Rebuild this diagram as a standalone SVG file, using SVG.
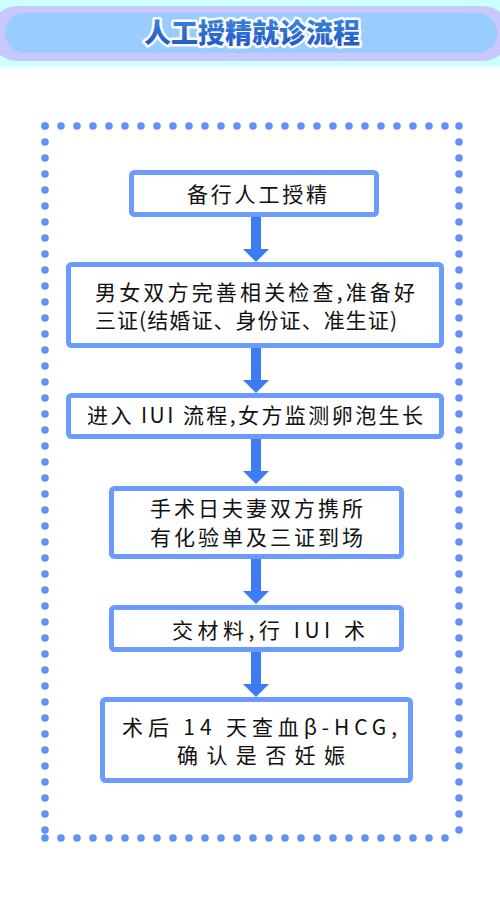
<svg xmlns="http://www.w3.org/2000/svg" width="500" height="900" viewBox="0 0 500 900">
  <defs>
    <linearGradient id="tg" x1="0" y1="0" x2="0" y2="1">
      <stop offset="0" stop-color="#3F8FE6"/>
      <stop offset="1" stop-color="#1F4FC0"/>
    </linearGradient>
  </defs>
  <style>
    .box { fill: #ffffff; stroke: #6B9BFF; stroke-width: 5; }
    .t { font-family: "Noto Sans CJK SC", "Liberation Sans", sans-serif; font-size: 21px; fill: #111111; }
    .arrow { fill: #3D7BF5; }
    .dots { stroke: #5C95F7; stroke-width: 7.5; stroke-linecap: round; stroke-dasharray: 0 16; fill: none; }
    .title { font-family: "Noto Sans CJK SC", sans-serif; font-size: 27px; font-weight: 900; fill: url(#tg); stroke: #ffffff; stroke-width: 5; paint-order: stroke; stroke-linejoin: round; }
  </style>
  <rect x="0" y="0" width="500" height="900" fill="#ffffff"/>
  <g id="header">
    <rect x="0" y="0" width="500" height="67" fill="#CCFFFF"/>
    <rect x="-10" y="6" width="520" height="55" rx="27.5" fill="#C8C8FF"/>
    <rect x="5" y="13" width="492" height="40" rx="20" fill="#99CCFF"/>
    <text class="title" x="252" y="43" text-anchor="middle">人工授精就诊流程</text>
  </g>
  <g id="frame">
    <line class="dots" x1="45" y1="126" x2="461" y2="126"/>
    <line class="dots" x1="45" y1="126" x2="45" y2="838"/>
    <line class="dots" x1="459" y1="126" x2="459" y2="838"/>
    <line class="dots" x1="45" y1="838" x2="461" y2="838"/>
  </g>
  <g id="connectors">
    <path class="arrow" d="M251,216 H261 V249 H269 L256,262 L243,249 H251 Z"/>
    <path class="arrow" d="M251,347 H261 V380 H269 L256,393 L243,380 H251 Z"/>
    <path class="arrow" d="M251,438 H261 V471 H269 L256,484 L243,471 H251 Z"/>
    <path class="arrow" d="M251,558 H261 V591 H269 L256,604 L243,591 H251 Z"/>
    <path class="arrow" d="M251,651 H261 V684 H269 L256,697 L243,684 H251 Z"/>
  </g>
  <g id="node1">
    <rect class="box" x="131.5" y="172.5" width="245" height="42" rx="3"/>
    <text class="t" x="187" y="202" textLength="140" lengthAdjust="spacing">备行人工授精</text>
  </g>
  <g id="node2">
    <rect class="box" x="68.5" y="264.5" width="373" height="81" rx="3"/>
    <text class="t" x="95" y="300" textLength="320" lengthAdjust="spacing">男女双方完善相关检查,准备好</text>
    <text class="t" x="95" y="328" textLength="302" lengthAdjust="spacing">三证(结婚证、身份证、准生证)</text>
  </g>
  <g id="node3">
    <rect class="box" x="68.5" y="395.5" width="373" height="41" rx="3"/>
    <text class="t" x="87" y="423" textLength="336" lengthAdjust="spacing">进入 IUI 流程,女方监测卵泡生长</text>
  </g>
  <g id="node4">
    <rect class="box" x="111.5" y="488.5" width="290" height="68" rx="3"/>
    <text class="t" x="150" y="516" textLength="213" lengthAdjust="spacing">手术日夫妻双方携所</text>
    <text class="t" x="150" y="545" textLength="213" lengthAdjust="spacing">有化验单及三证到场</text>
  </g>
  <g id="node5">
    <rect class="box" x="111.5" y="607.5" width="290" height="42" rx="3"/>
    <text class="t" x="172" y="638" textLength="193" lengthAdjust="spacing">交材料,行 IUI 术</text>
  </g>
  <g id="node6">
    <rect class="box" x="102.5" y="699.5" width="308" height="81" rx="3"/>
    <text class="t" x="122" y="735" textLength="275" lengthAdjust="spacing">术后 14 天查血β-HCG,</text>
    <text class="t" x="177" y="763" textLength="168" lengthAdjust="spacing">确认是否妊娠</text>
  </g>
</svg>
